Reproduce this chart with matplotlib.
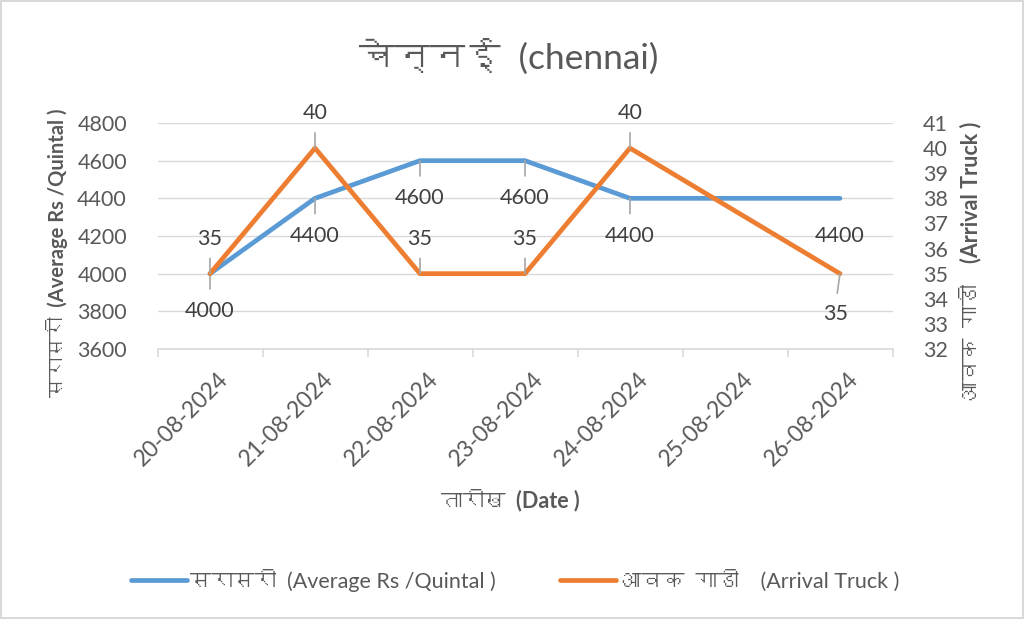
import matplotlib
matplotlib.use("Agg")
import matplotlib.pyplot as plt
import numpy as np
from matplotlib import font_manager
from matplotlib.ft2font import FT2Font
from matplotlib.lines import Line2D
import matplotlib.transforms as mtransforms

#Data
dates = ["20-08-2024", "21-08-2024", "22-08-2024", "23-08-2024",
         "24-08-2024", "25-08-2024", "26-08-2024"]
avg_rate = [4000, 4400, 4600, 4600, 4400, np.nan, 4400]
arrival = [35, 40, 35, 35, 40, np.nan, 35]

title_txt = "चेन्नई  (chennai)"
left_lbl = "सरासरी  (Average Rs /Quintal )"
right_lbl = "आवक  गाडी    (Arrival Truck )"
x_lbl = "तारीख  (Date )"

#Find any installed font that has Devanagari glyphs
def find_deva_font():
    for f in font_manager.fontManager.ttflist:
        try:
            if 0x0915 in FT2Font(f.fname).get_charmap():
                return f.name
        except Exception:
            pass
    return None

fams = ["Lato"]
deva = find_deva_font()
if deva:
    fams.append(deva)
fams.append("DejaVu Sans")
plt.rcParams["font.family"] = fams

BLUE = "#5B9BD5"
ORANGE = "#ED7D31"
GRID = "#D9D9D9"
TXT = "#595959"
LBL = "#404040"
LEAD = "#A6A6A6"
FS = 15.5

fig = plt.figure(figsize=(10.24, 6.19), dpi=100)
fig.patch.set_edgecolor(GRID)
fig.patch.set_linewidth(1.5)

ax = fig.add_axes([157.5/1024, 1-349/619, 735/1024, 226/619])
ax2 = ax.twinx()

x = np.arange(len(dates))
a = np.array(avg_rate, dtype=float)
b = np.array(arrival, dtype=float)
ma = ~np.isnan(a)
mb = ~np.isnan(b)

ax.plot(x[ma], a[ma], color=BLUE, lw=3.4, solid_capstyle="round", solid_joinstyle="round", zorder=3)
ax2.plot(x[mb], b[mb], color=ORANGE, lw=3.4, solid_capstyle="round", solid_joinstyle="round", zorder=3)

ax.set_xlim(-0.5, len(dates) - 0.5)
ax.set_ylim(3600, 4800)
ax.set_yticks(np.arange(3600, 4801, 200))
ax2.set_ylim(32, 41)
ax2.set_yticks(np.arange(32, 42, 1))

ax.yaxis.grid(True, color=GRID, lw=1)
ax.set_axisbelow(True)
for s in ["top", "left", "right"]:
    ax.spines[s].set_visible(False)
    ax2.spines[s].set_visible(False)
ax2.spines["bottom"].set_visible(False)
ax.spines["bottom"].set_color(GRID)
ax.spines["bottom"].set_linewidth(1.2)

#category ticks between categories, labels at centres
ax.set_xticks(x)
ax.set_xticks(np.arange(-0.5, len(dates), 1), minor=True)
ax.tick_params(axis="x", which="major", length=0, pad=14)
ax.tick_params(axis="x", which="minor", length=6, color=GRID, width=1.2)
ax.set_xticklabels(dates, rotation=45, ha="right", va="top", fontsize=16.5, color=TXT)
off = mtransforms.ScaledTranslation(22/100, 0, fig.dpi_scale_trans)
for lab in ax.get_xticklabels():
    lab.set_transform(lab.get_transform() + off)

ax.tick_params(axis="y", length=0, pad=22, labelsize=FS, labelcolor=TXT)
ax2.tick_params(axis="y", length=0, pad=22, labelsize=FS, labelcolor=TXT)

#data labels + leader lines
for i in range(len(dates)):
    if ma[i]:
        ax.annotate(f"{int(a[i])}", (x[i], a[i]), xytext=(0, -27), textcoords="offset points",
                    ha="center", va="center", fontsize=FS, color=LBL)
        if i != len(dates) - 1:
            ax.annotate("", (x[i], a[i]), xytext=(0, -11), textcoords="offset points",
                        arrowprops=dict(arrowstyle="-", color=LEAD, lw=1.2, shrinkA=0, shrinkB=0))
    if mb[i]:
        if i == len(dates) - 1:
            ax2.annotate(f"{int(b[i])}", (x[i], b[i]), xytext=(-3, -29), textcoords="offset points",
                         ha="center", va="center", fontsize=FS, color=LBL)
            ax2.annotate("", (x[i], b[i]), xytext=(-2, -14), textcoords="offset points",
                         arrowprops=dict(arrowstyle="-", color=LEAD, lw=1.2, shrinkA=0, shrinkB=0))
        else:
            ax2.annotate(f"{int(b[i])}", (x[i], b[i]), xytext=(0, 25), textcoords="offset points",
                         ha="center", va="center", fontsize=FS, color=LBL)
            ax2.annotate("", (x[i], b[i]), xytext=(0, 11), textcoords="offset points",
                         arrowprops=dict(arrowstyle="-", color=LEAD, lw=1.2, shrinkA=0, shrinkB=0))

#titles
fig.text(509/1024, 1-57/619, title_txt, ha="center", va="center", fontsize=25.5, color=TXT)
fig.text(57/1024, 1-253/619, left_lbl, rotation=90, ha="center", va="center",
         fontsize=14.5, fontweight="bold", color=TXT)
fig.text(970/1024, 1-262/619, right_lbl, rotation=90, ha="center", va="center",
         fontsize=FS, fontweight="bold", color=TXT)
fig.text(510/1024, 1-500/619, x_lbl, ha="center", va="center",
         fontsize=FS, fontweight="bold", color=TXT)

#legend
handles = [Line2D([], [], color=BLUE, lw=3.4, solid_capstyle="round"),
           Line2D([], [], color=ORANGE, lw=3.4, solid_capstyle="round")]
leg = fig.legend(handles, [left_lbl, right_lbl], loc="center", ncol=2,
                 bbox_to_anchor=(515/1024, 1-580/619), frameon=False,
                 fontsize=FS, handlelength=2.6, handletextpad=0.15, columnspacing=3.0)
for t in leg.get_texts():
    t.set_color(TXT)

fig.savefig("out.png", dpi=100)
